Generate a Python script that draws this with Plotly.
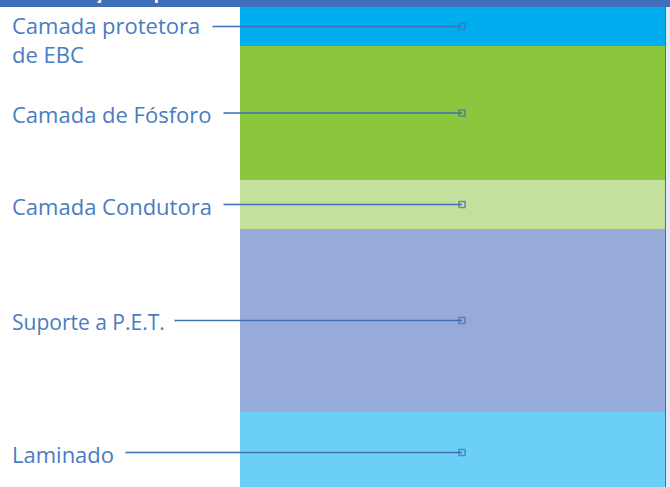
import plotly.graph_objects as go

# ---- data ----
layer_names = ["Camada protetora<br>de EBC", "Camada de Fósforo", "Camada Condutora",
               "Suporte a P.E.T.", "Laminado"]
layer_thickness = [39, 134, 49, 183, 81]
layer_colors = ["#00AEEF", "#8CC63F", "#C5DF9C", "#97ABD9", "#6CCFF6"]
title_text = "Constituição da placa de fósforo"

# ---- layout constants ----
W, H = 670, 487
TOP = 7
bar_left, bar_right = 240, 665
leader_end = 462
leader_start = [213, 224, 224, 175, 126]
label_x = 10
label_shift = [-13, -1, -1, -1, -1]
label_size = [22, 22, 22, 21, 22]
text_color = "#4A7CC0"
line_color = "#3F6FB6"

fig = go.Figure()

for name, t, c in zip(layer_names, layer_thickness, layer_colors):
    fig.add_trace(go.Bar(
        x=[(bar_left + bar_right) / 2], y=[t], width=[bar_right - bar_left],
        marker=dict(color=c, line=dict(width=0)), name=name,
        hoverinfo="skip", showlegend=False))

# leader lines at layer centres
cum = 0
annotations = []
for i, (name, t) in enumerate(zip(layer_names, layer_thickness)):
    center = cum + t / 2
    cum += t
    fig.add_trace(go.Scatter(
        x=[leader_start[i], leader_end], y=[center, center], mode="lines+markers",
        line=dict(color=line_color, width=1.6),
        marker=dict(symbol=["line-ew", "square-open"], size=[1, 6],
                    color=line_color, line=dict(color=line_color, width=1.6)),
        hoverinfo="skip", showlegend=False))
    annotations.append(dict(
        x=label_x, y=center, xref="x", yref="y", text=name, showarrow=False,
        xanchor="left", yanchor="middle", align="left", yshift=label_shift[i],
        font=dict(family="Open Sans", size=label_size[i], color=text_color)))

annotations.append(dict(
    x=15, y=1, xref="x", yref="paper", text="<b>" + title_text + "</b>",
    showarrow=False, xanchor="left", yanchor="bottom", yshift=1,
    font=dict(family="Open Sans", size=17, color="white")))

fig.update_layout(
    width=W, height=H, margin=dict(l=0, r=0, t=TOP, b=0),
    paper_bgcolor="white", plot_bgcolor="white",
    barmode="stack", bargap=0,
    xaxis=dict(range=[0, W], visible=False, fixedrange=True),
    yaxis=dict(range=[H - TOP, 0], visible=False, fixedrange=True),
    annotations=annotations,
    shapes=[
        dict(type="rect", xref="paper", yref="paper", x0=0, x1=1, y0=1,
             y1=1 + TOP / (H - TOP), fillcolor="#3D70B8", line=dict(width=0),
             layer="below"),
        dict(type="rect", xref="x", yref="paper", x0=bar_right, x1=W, y0=0, y1=1,
             fillcolor="#E4EAF7", line=dict(width=0), layer="above"),
        dict(type="line", xref="x", yref="paper", x0=bar_right + 0.5, x1=bar_right + 0.5,
             y0=0, y1=1, line=dict(color="#3D6DC0", width=1), layer="above"),
    ],
)

fig.write_html("out.html", config={"displayModeBar": False},
               post_script="document.body.style.margin='0';document.body.style.overflow='hidden';")
